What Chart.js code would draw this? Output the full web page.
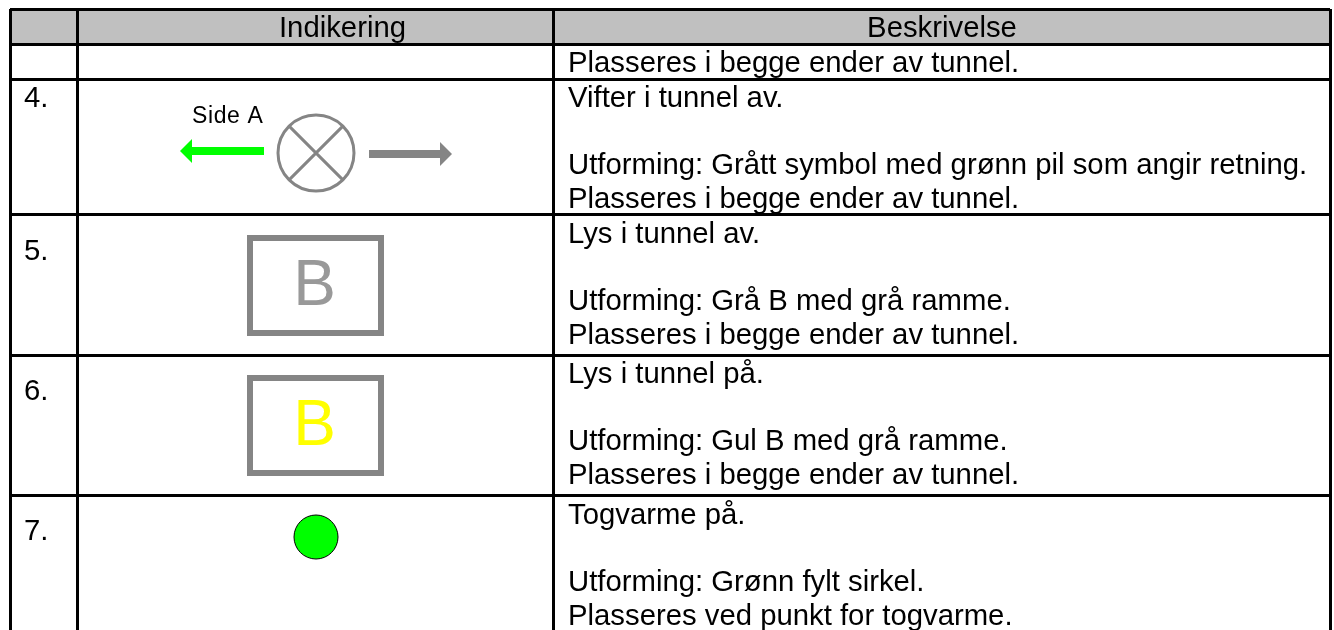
<!DOCTYPE html>
<html>
<head>
<meta charset="utf-8">
<title>Indikering</title>
<script src="https://cdn.jsdelivr.net/npm/chart.js@4/dist/chart.umd.min.js"></script>
<style>
  html, body { margin: 0; padding: 0; background: #fff; overflow: hidden; }
  #wrap { width: 1334px; height: 630px; }
</style>
</head>
<body>
<div id="wrap"><canvas id="tabell"></canvas></div>
<script>
// Kolonner og rader i tabellen (i samme enhet som aksene)
const kolonner = [10, 77, 553, 1330];
const rader = [9, 44, 79, 215, 355, 495];
const overskrifter = ["Indikering", "Beskrivelse"];
const nummer = ["4.", "5.", "6.", "7."];
const nummerY = [107, 260, 400, 540];

const beskrivelser = [
  ["Plasseres i begge ender av tunnel.", 72],
  ["Vifter i tunnel av.", 107],
  ["Utforming: Grått symbol med grønn pil som angir retning.", 174],
  ["Plasseres i begge ender av tunnel.", 208],
  ["Lys i tunnel av.", 243],
  ["Utforming: Grå B med grå ramme.", 310],
  ["Plasseres i begge ender av tunnel.", 344],
  ["Lys i tunnel på.", 383],
  ["Utforming: Gul B med grå ramme.", 450],
  ["Plasseres i begge ender av tunnel.", 484],
  ["Togvarme på.", 524],
  ["Utforming: Grønn fylt sirkel.", 591],
  ["Plasseres ved punkt for togvarme.", 625]
];

// Symboler
const pilGronn = [{ x: 264, y: 151 }, { x: 190, y: 151 }];
const pilGra = [{ x: 369, y: 154 }, { x: 442, y: 154 }];
const vifteSenter = [{ x: 316, y: 153 }];
const rammeAv = [{ x: 250, y: 238 }, { x: 381, y: 238 }, { x: 381, y: 333 }, { x: 250, y: 333 }, { x: 250, y: 238 }];
const rammePa = [{ x: 250, y: 378 }, { x: 381, y: 378 }, { x: 381, y: 473 }, { x: 250, y: 473 }, { x: 250, y: 378 }];
const togvarme = [{ x: 316, y: 537 }];

const fargeGra = "#858585";
const fargeGronn = "#00ff00";

// Tegner grå overskriftsrad under rutenettet
const bakgrunn = {
  id: "bakgrunn",
  beforeDraw(chart) {
    const { ctx, scales: { x, y } } = chart;
    ctx.save();
    ctx.fillStyle = "#c0c0c0";
    ctx.fillRect(x.getPixelForValue(kolonner[0]), y.getPixelForValue(rader[0]),
      x.getPixelForValue(kolonner[3]) - x.getPixelForValue(kolonner[0]),
      y.getPixelForValue(rader[1]) - y.getPixelForValue(rader[0]));
    ctx.restore();
  }
};

// Tekst og pilhoder
const tekster = {
  id: "tekster",
  afterDatasetsDraw(chart) {
    const { ctx, scales: { x, y } } = chart;
    ctx.save();
    ctx.fillStyle = "#000";
    ctx.textBaseline = "alphabetic";
    ctx.font = "29.3px 'Liberation Sans'";
    ctx.textAlign = "center";
    ctx.fillText(overskrifter[0], x.getPixelForValue(342.5), y.getPixelForValue(37));
    ctx.fillText(overskrifter[1], x.getPixelForValue(942), y.getPixelForValue(37));
    ctx.textAlign = "left";
    nummer.forEach((n, i) => ctx.fillText(n, x.getPixelForValue(24), y.getPixelForValue(nummerY[i])));
    beskrivelser.forEach(([t, py]) => ctx.fillText(t, x.getPixelForValue(568), y.getPixelForValue(py)));

    ctx.font = "23px 'Liberation Sans'";
    ctx.letterSpacing = "0.6px";
    ctx.fillText("Side A", x.getPixelForValue(192), y.getPixelForValue(123));
    ctx.letterSpacing = "0px";

    ctx.textAlign = "center";
    ctx.font = "64px 'Liberation Sans'";
    ctx.fillStyle = "#999999";
    ctx.fillText("B", x.getPixelForValue(314.5), y.getPixelForValue(305));
    ctx.fillStyle = "#ffff00";
    ctx.fillText("B", x.getPixelForValue(314.5), y.getPixelForValue(445));

    // pilhoder
    const hode = (spiss, retning, farge, py) => {
      const sx = x.getPixelForValue(spiss), sy = y.getPixelForValue(py);
      ctx.fillStyle = farge;
      ctx.beginPath();
      ctx.moveTo(sx, sy);
      ctx.lineTo(sx + retning * 12, sy - 12);
      ctx.lineTo(sx + retning * 12, sy + 12);
      ctx.closePath();
      ctx.fill();
    };
    hode(180, 1, fargeGronn, pilGronn[0].y);
    hode(452, -1, fargeGra, pilGra[0].y);
    ctx.restore();
  }
};

new Chart(document.getElementById("tabell"), {
  type: "scatter",
  data: {
    datasets: [
      { data: pilGronn, showLine: true, borderColor: fargeGronn, borderWidth: 8, pointRadius: 0 },
      { data: pilGra, showLine: true, borderColor: fargeGra, borderWidth: 8, pointRadius: 0 },
      { data: vifteSenter, pointStyle: "circle", pointRadius: 38, borderColor: fargeGra, borderWidth: 3, backgroundColor: "rgba(0,0,0,0)" },
      { data: vifteSenter, pointStyle: "cross", rotation: 45, pointRadius: 38, borderColor: fargeGra, borderWidth: 3 },
      { data: rammeAv, showLine: true, borderColor: fargeGra, borderWidth: 6, pointRadius: 0, borderJoinStyle: "miter", borderCapStyle: "square" },
      { data: rammePa, showLine: true, borderColor: fargeGra, borderWidth: 6, pointRadius: 0, borderJoinStyle: "miter", borderCapStyle: "square" },
      { data: togvarme, pointStyle: "circle", pointRadius: 22, backgroundColor: fargeGronn, borderColor: "#000", borderWidth: 1 }
    ]
  },
  options: {
    animation: false,
    responsive: true,
    maintainAspectRatio: false,
    layout: { autoPadding: false, padding: { left: 10, top: 9, right: 4, bottom: 0 } },
    plugins: { legend: { display: false }, tooltip: { enabled: false }, title: { display: false } },
    scales: {
      x: {
        type: "linear", min: 10, max: 1330,
        afterBuildTicks: (s) => { s.ticks = kolonner.map((v) => ({ value: v })); },
        ticks: { display: false },
        grid: { color: "#000", lineWidth: 3, drawTicks: false },
        border: { display: false }
      },
      y: {
        type: "linear", min: 9, max: 630, reverse: true,
        afterBuildTicks: (s) => { s.ticks = rader.map((v) => ({ value: v })); },
        ticks: { display: false },
        grid: { color: "#000", lineWidth: 3, drawTicks: false },
        border: { display: false }
      }
    }
  },
  plugins: [bakgrunn, tekster]
});
</script>
</body>
</html>
